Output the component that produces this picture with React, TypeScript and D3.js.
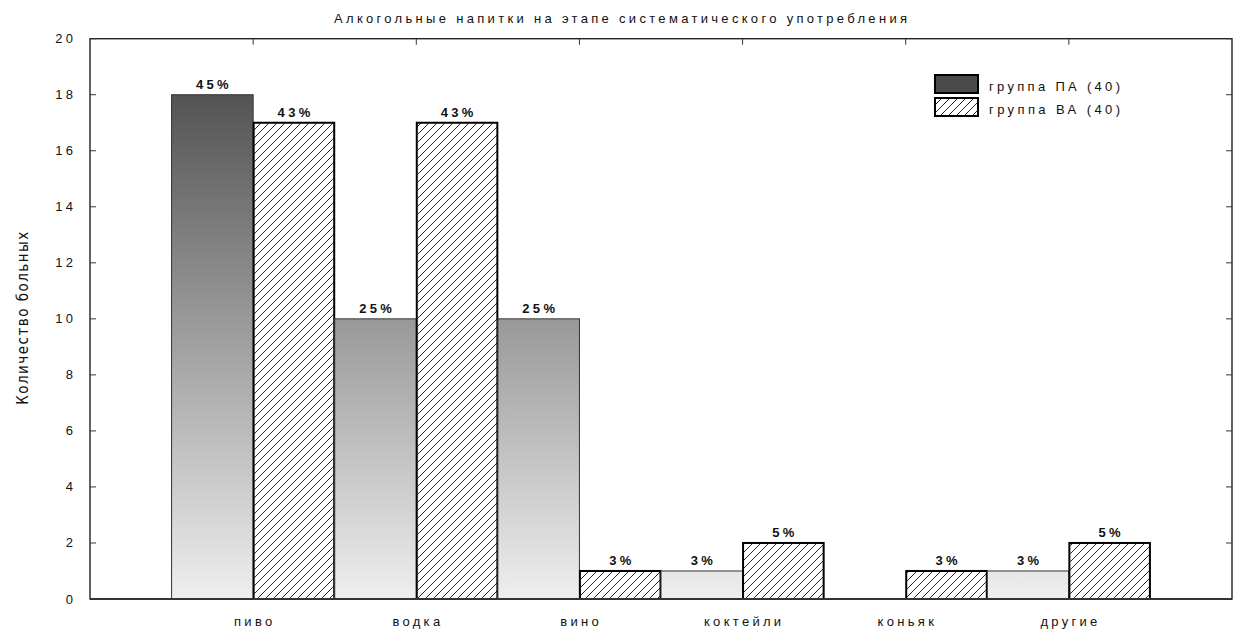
import React from "react";
import * as d3 from "d3";

const categories = ["пиво", "водка", "вино", "коктейли", "коньяк", "другие"];
const seriesNames = ["группа ПА (40)", "группа ВА (40)"];
const paValues = [18, 10, 10, 1, 0, 1];
const baValues = [17, 17, 1, 2, 1, 2];
const paLabels = ["45%", "25%", "25%", "3%", "", "3%"];
const baLabels = ["43%", "43%", "3%", "5%", "3%", "5%"];
const yTicks = [0, 2, 4, 6, 8, 10, 12, 14, 16, 18, 20];
const title = "Алкогольные напитки на этапе систематического употребления";
const yTitle = "Количество больных";

const W = 1238;
const H = 631;
const left = 90;
const right = 1232;
const top = 38.7;
const bottom = 599;
const font = "'Liberation Sans', Arial, sans-serif";

export default function App() {
  const y = d3.scaleLinear().domain([0, 20]).range([bottom, top]);
  const x = d3
    .scaleBand<string>()
    .domain(categories)
    .range([left, right])
    .paddingInner(0)
    .paddingOuter(1 / 2);
  const bw = x.bandwidth() / 2;

  const bars: { key: string; x: number; v: number; label: string; s: number }[] = [];
  categories.forEach((c, i) => {
    const x0 = x(c)!;
    bars.push({ key: c + "pa", x: x0, v: paValues[i], label: paLabels[i], s: 0 });
    bars.push({ key: c + "ba", x: x0 + bw, v: baValues[i], label: baLabels[i], s: 1 });
  });

  const ls = 3.3;

  return (
    <svg width={W} height={H} style={{ position: "absolute", left: 0, top: 0, background: "#fff" }}>
      <defs>
        <linearGradient id="paGrad" gradientUnits="userSpaceOnUse" x1="0" x2="0" y1={y(0)} y2={y(20)}>
          <stop offset="0%" stopColor="#efefef" />
          <stop offset="100%" stopColor="#424242" />
        </linearGradient>
        <pattern id="hatch" patternUnits="userSpaceOnUse" width="8" height="8">
          <rect width="8" height="8" fill="#fff" />
          <path d="M0,8 L8,0 M-2,2 L2,-2 M6,10 L10,6" stroke="#111" strokeWidth="0.9" />
        </pattern>
      </defs>

      <text x={334} y={23} fontFamily={font} fontSize={13} textLength={573} lengthAdjust="spacing" fill="#111">
        {title}
      </text>

      {bars
        .filter((b) => b.v > 0)
        .map((b) =>
          b.s === 0 ? (
            <rect key={b.key} x={b.x} y={y(b.v)} width={bw} height={y(0) - y(b.v)} fill="url(#paGrad)" stroke="#333" strokeWidth={1} />
          ) : (
            <rect key={b.key} x={b.x + 0.5} y={y(b.v)} width={bw - 1} height={y(0) - y(b.v)} fill="url(#hatch)" stroke="#000" strokeWidth={2} />
          )
        )}

      {bars
        .filter((b) => b.label)
        .map((b) => (
          <text
            key={b.key + "t"}
            x={b.x + bw / 2 + ls / 2}
            y={y(b.v) - 6}
            textAnchor="middle"
            fontFamily={font}
            fontSize={13}
            fontWeight="bold"
            letterSpacing={ls}
            fill="#111"
          >
            {b.label}
          </text>
        ))}

      {/* frame */}
      <rect x={left} y={top} width={right - left} height={bottom - top} fill="none" stroke="#222" strokeWidth={1.4} />
      <line x1={left} x2={right} y1={bottom} y2={bottom} stroke="#333" strokeWidth={2} />

      {yTicks.map((t) => (
        <g key={"yt" + t}>
          <line x1={left} x2={left + 6} y1={y(t)} y2={y(t)} stroke="#333" strokeWidth={1} />
          <line x1={right - 6} x2={right} y1={y(t)} y2={y(t)} stroke="#333" strokeWidth={1} />
          <text x={73 + ls} y={y(t) + 4.5} textAnchor="end" fontFamily={font} fontSize={13} letterSpacing={ls} fill="#111">
            {t}
          </text>
        </g>
      ))}

      {categories.map((c) => {
        const cx = x(c)! + x.bandwidth() / 2;
        return (
          <g key={"xt" + c}>
            <line x1={cx} x2={cx} y1={top} y2={top + 6} stroke="#333" strokeWidth={1} />
            <text x={cx + ls / 2} y={626} textAnchor="middle" fontFamily={font} fontSize={13} letterSpacing={ls} fill="#111">
              {c}
            </text>
          </g>
        );
      })}

      <text
        transform={`translate(28, ${(top + bottom) / 2 + 86}) rotate(-90)`}
        fontFamily="'Liberation Sans Narrow', 'DejaVu Sans Condensed', sans-serif"
        fontSize={15}
        textLength={173}
        lengthAdjust="spacing"
        fill="#111"
      >
        {yTitle}
      </text>

      {/* legend */}
      <rect x={935} y={75} width={43} height={18} fill="#4a4a4a" stroke="#000" strokeWidth={2} />
      <rect x={935} y={98} width={43} height={18} fill="url(#hatch)" stroke="#000" strokeWidth={2} />
      <text x={989} y={90.5} fontFamily={font} fontSize={13} textLength={131} lengthAdjust="spacing" fill="#111">
        {seriesNames[0]}
      </text>
      <text x={989} y={113.5} fontFamily={font} fontSize={13} textLength={131} lengthAdjust="spacing" fill="#111">
        {seriesNames[1]}
      </text>
    </svg>
  );
}
